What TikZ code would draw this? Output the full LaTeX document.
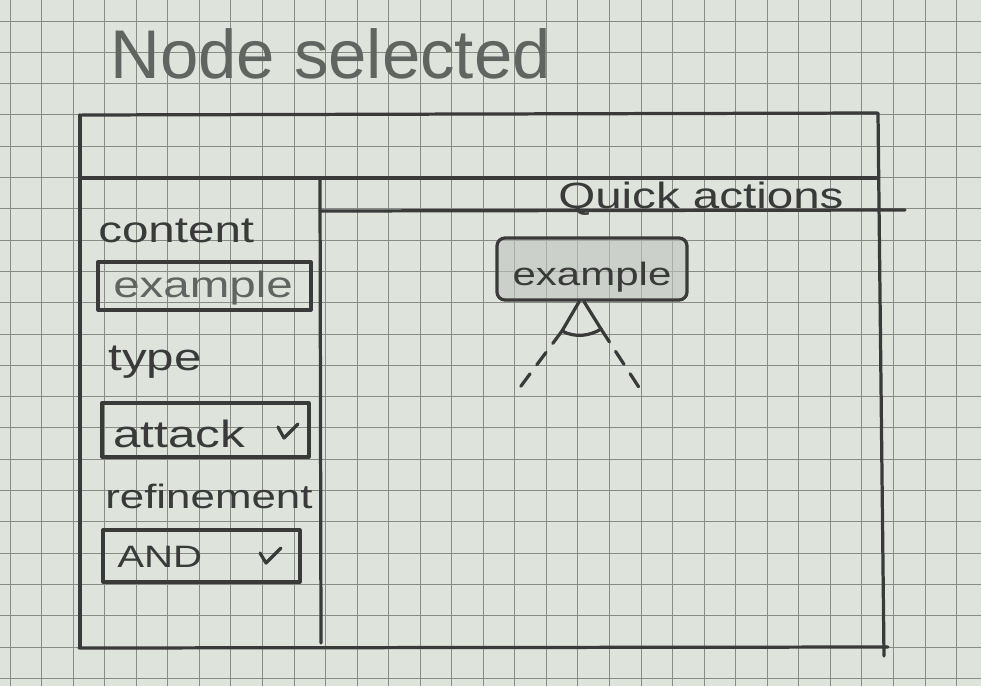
\documentclass[tikz,border=0pt]{standalone}
\usepackage{fontspec}
\setmainfont{Liberation Sans}
\newfontfamily\handfont[FakeStretch=1.3]{Liberation Sans}
\usetikzlibrary{positioning}

\definecolor{paper}{HTML}{DEE4DC}
\definecolor{gridgray}{HTML}{878C87}
\definecolor{pencil}{HTML}{3A3A3A}
\definecolor{softpencil}{HTML}{626462}
\definecolor{smudge}{HTML}{BFC4BE}

\tikzset{
  gridline/.style={gridgray, line width=0.6pt},
  stroke/.style={pencil, line width=2.3pt, line cap=round, line join=round},
  hand/.style={text=pencil, inner sep=0pt, anchor=base west,
    font=\handfont\fontsize{26}{30}\selectfont},
  heading/.style={text=softpencil, inner sep=0pt, anchor=base west,
    font=\fontsize{49}{54}\selectfont},
  qnode/.style={stroke, draw, rounded corners=0.2cm, fill=smudge, fill opacity=0.6,
    text opacity=1, text=pencil, inner sep=0pt,
    text height=0.8cm, text depth=0cm,
    minimum width=4.75cm, minimum height=1.55cm,
    font=\handfont\fontsize{23}{26}\selectfont},
  legdash/.style={stroke, dash pattern=on 11pt off 8pt}
}

\begin{document}
\begin{tikzpicture}[x=0.025cm, y=-0.025cm]
  \useasboundingbox (0,0) rectangle (981,686);
  % paper
  \fill[paper] (0,0) rectangle (981,686);
  \foreach \gx in {0,...,30}
    \draw[gridline] ({10+31.55*\gx},0) -- ({10+31.55*\gx},686);
  \foreach \gy in {0,...,21}
    \draw[gridline] (0,{21+31.3*\gy}) -- (981,{21+31.3*\gy});

  % title
  \node[heading] (title) at (110,78) {Node selected};

  % window frame
  \draw[stroke] (82,115) -- (877,113);
  \draw[stroke] (80,115) -- (80,647);
  \draw[stroke] (79,648) -- (888,647);
  \draw[stroke] (878,113) -- (884,656);
  \draw[stroke] (80,178) -- (877,178);
  \draw[stroke] (320,180) -- (321,643);
  \draw[stroke] (320,211) -- (905,210);

  % side panel
  \node[hand] (contentlabel) at (98,242) {content};
  \draw[stroke] (98,262) rectangle (311,310);
  \node[hand, text=softpencil] (contentval) at (113,297) {example};
  \node[hand, font=\handfont\fontsize{27}{30}\selectfont] (typelabel) at (108,370) {type};
  \draw[stroke] (102,403) rectangle (309,457);
  \node[hand, font=\handfont\fontsize{27}{30}\selectfont] (typeval) at (113,447) {attack};
  \draw[stroke] (278,427) -- (284,438) -- (298,424);
  \node[hand, font=\handfont\fontsize{24}{28}\selectfont] (reflabel) at (105,508) {refinement};
  \draw[stroke] (103,530) rectangle (300,582);
  \node[hand, font=\handfont\fontsize{22}{26}\selectfont] (refval) at (117,567) {AND};
  \draw[stroke] (260,553) -- (266,563) -- (281,548);

  % quick actions
  \node[hand] (qlabel) at (558,208) {Quick actions};
  \node[qnode] (qa) at (592,269) {example};
  \coordinate (legl) at (562,331);
  \coordinate (legr) at (601,329);
  \coordinate (endl) at (518,390);
  \coordinate (endr) at (642,392);
  \draw[stroke] ([xshift=-0.32cm]qa.south) -- (legl);
  \draw[stroke] ([xshift=-0.2cm]qa.south) -- (legr);
  \draw[stroke] (legl) .. controls (575,338) and (590,336) .. (legr);
  \draw[legdash] (legl) -- (endl);
  \draw[legdash] (legr) -- (endr);
\end{tikzpicture}
\end{document}
